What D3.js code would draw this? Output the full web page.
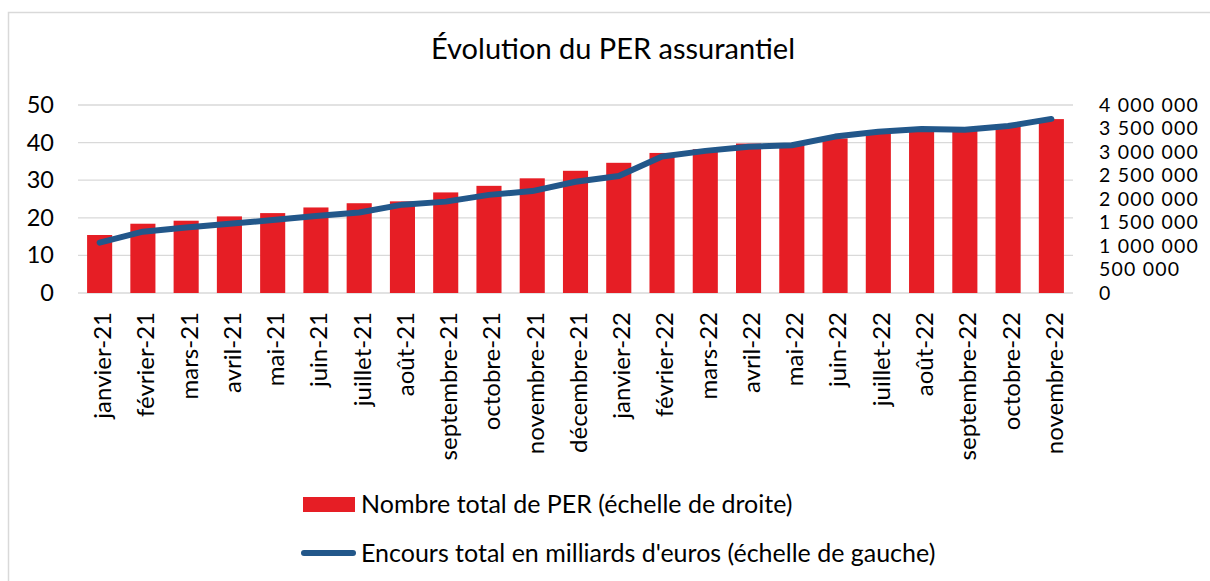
<!DOCTYPE html>
<html><head><meta charset="utf-8">
<script src="https://cdn.jsdelivr.net/npm/d3@7"></script>
<style>body{margin:0;background:#fff}svg{display:block}text{font-family:Lato,"Open Sans",sans-serif;fill:#000}</style>
</head><body><svg id="c" width="1210" height="581"></svg>
<script>
const categories = ["janvier-21","février-21","mars-21","avril-21","mai-21","juin-21","juillet-21","août-21","septembre-21","octobre-21","novembre-21","décembre-21","janvier-22","février-22","mars-22","avril-22","mai-22","juin-22","juillet-22","août-22","septembre-22","octobre-22","novembre-22"];
const nombrePER = [1234000,1474000,1538000,1630000,1700000,1820000,1910000,1950000,2140000,2280000,2440000,2600000,2770000,2980000,3060000,3180000,3160000,3290000,3400000,3470000,3470000,3590000,3700000];
const encours = [13.4,16.3,17.4,18.4,19.4,20.5,21.4,23.5,24.3,26.1,27.1,29.6,31.1,36.3,37.8,38.9,39.3,41.6,42.9,43.6,43.4,44.4,46.3];
const leftTicks = [0,10,20,30,40,50];
const rightTicks = [0,500000,1000000,1500000,2000000,2500000,3000000,3500000,4000000];
const title = "Évolution du PER assurantiel";
const legendBar = "Nombre total de PER  (échelle de droite)";
const legendLine = "Encours total en milliards d'euros (échelle de gauche)";

const svg = d3.select("#c");
const L = 78, R = 1073, T = 105, B = 293;
const x = d3.scaleBand().domain(categories).range([L, R]).paddingInner(0.42).paddingOuter(0.21);
const yL = d3.scaleLinear().domain([0, 50]).range([B, T]);
const yR = d3.scaleLinear().domain([0, 4000000]).range([B, T]);
const fmt = v => d3.format(",")(v).replace(/,/g, " ");

// border
svg.append("path").attr("d", "M8.5,581 V12.5 H1210").attr("fill","none").attr("stroke","#d9d9d9").attr("stroke-width",1.5);

svg.append("text").attr("x", 613).attr("y", 59).attr("text-anchor","middle").style("font-size","29px").text(title);

// gridlines
svg.append("g").selectAll("line").data(leftTicks).join("line")
  .attr("x1", L).attr("x2", R).attr("y1", d=>yL(d)).attr("y2", d=>yL(d))
  .attr("stroke","#d9d9d9").attr("stroke-width",1.3);

// left axis
const ga = svg.append("g").attr("transform",`translate(${L-24},0)`)
  .call(d3.axisLeft(yL).tickValues(leftTicks).tickSize(0).tickPadding(0));
ga.select(".domain").remove();
ga.selectAll("text").style("font-size","23.5px").style("font-family","Lato");

// right axis
const gr = svg.append("g").attr("transform",`translate(${R+26},0)`)
  .call(d3.axisRight(yR).tickValues(rightTicks).tickSize(0).tickPadding(0).tickFormat(fmt));
gr.select(".domain").remove();
gr.selectAll("text").style("font-size","19.5px").style("font-family","Lato").style("letter-spacing","1.2px");

// bars
svg.append("g").selectAll("rect").data(nombrePER).join("rect")
  .attr("x",(d,i)=>x(categories[i])).attr("width",x.bandwidth())
  .attr("y",d=>yR(d)).attr("height",d=>B-yR(d)).attr("fill","#E61E25");

// line
svg.append("path").datum(encours)
  .attr("d", d3.line().x((d,i)=>x(categories[i])+x.bandwidth()/2).y(d=>yL(d)))
  .attr("fill","none").attr("stroke","#22578A").attr("stroke-width",6)
  .attr("stroke-linecap","round").attr("stroke-linejoin","round");

// x labels
svg.append("g").selectAll("text").data(categories).join("text")
  .attr("transform",d=>`translate(${x(d)+x.bandwidth()/2+3},312) rotate(-90)`)
  .attr("text-anchor","end").attr("dy","0.35em").style("font-size","24px").text(d=>d);

// legend
svg.append("rect").attr("x",303).attr("y",497).attr("width",52).attr("height",15).attr("fill","#E61E25");
svg.append("text").attr("x",361).attr("y",504).attr("dy","0.36em").style("font-size","25px").text(legendBar);
svg.append("line").attr("x1",304).attr("x2",353).attr("y1",553).attr("y2",553).attr("stroke","#22578A").attr("stroke-width",6).attr("stroke-linecap","round");
svg.append("text").attr("x",361).attr("y",553).attr("dy","0.36em").style("font-size","25px").text(legendLine);
</script></body></html>
